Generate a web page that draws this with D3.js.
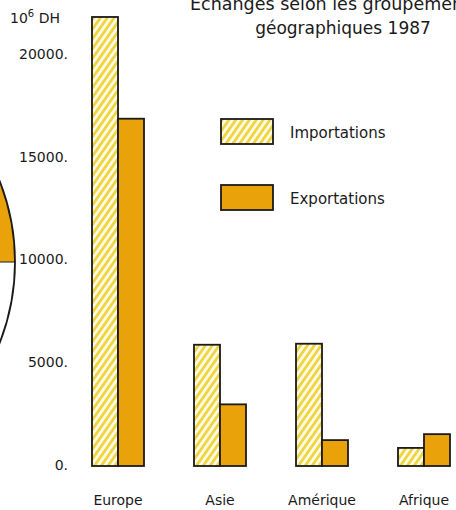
<!DOCTYPE html>
<html>
<head>
<meta charset="utf-8">
<script src="https://cdn.jsdelivr.net/npm/d3@7"></script>
<style>
  body { margin: 0; background: #fff; }
  svg { display: block; font-family: "DejaVu Sans", "Liberation Sans", sans-serif; }
</style>
</head>
<body>
<svg id="chart" width="456" height="510"></svg>
<script>
const regions = ["Europe", "Asie", "Amérique", "Afrique"];
const series = ["Importations", "Exportations"];
const imports = [21850, 5900, 5950, 880];
const exports = [16900, 3000, 1260, 1550];
const yTicks = [0, 5000, 10000, 15000, 20000];

const svg = d3.select("#chart");

const yellow = "#efd546";
const cream = "#fffbe2";
const orange = "#eaa20a";
const ink = "#1a1a1a";

// hatch pattern for imports
const defs = svg.append("defs");
const pat = defs.append("pattern")
    .attr("id", "hatch")
    .attr("patternUnits", "userSpaceOnUse")
    .attr("width", 5.6)
    .attr("height", 10)
    .attr("patternTransform", "rotate(35)");
pat.append("rect").attr("width", 5.6).attr("height", 10).attr("fill", cream);
pat.append("rect").attr("x", 0).attr("width", 2.8).attr("height", 10).attr("fill", yellow);

const fills = { "Importations": "url(#hatch)", "Exportations": orange };

// piece of the neighbouring pie chart, cut off at the left edge
const pieR = 221;
const pieWrap = svg.append("g");
defs.append("clipPath").attr("id", "pieclip")
    .append("rect").attr("x", 0).attr("y", 0).attr("width", 60).attr("height", 510);
pieWrap.attr("clip-path", "url(#pieclip)");
const pie = pieWrap.append("g").attr("transform", "translate(-206, 262)");
pie.append("path")
    .attr("d", d3.arc().innerRadius(0).outerRadius(pieR).startAngle(0).endAngle(Math.PI / 2)())
    .attr("fill", orange);
pie.append("circle").attr("r", pieR).attr("fill", "none").attr("stroke", ink).attr("stroke-width", 1.8);
pie.append("line").attr("x1", 0).attr("x2", pieR).attr("stroke", ink).attr("stroke-width", 1.2);

const y = d3.scaleLinear().domain([0, 20000]).range([466, 55]);
const x = d3.scalePoint().domain(regions).range([118, 424]);
const xs = d3.scaleBand().domain(series).range([-26, 26]);

// y axis labels
svg.append("g").selectAll("text")
    .data(yTicks)
    .enter().append("text")
        .attr("x", 68)
        .attr("y", d => y(d) - 1)
        .attr("dy", "0.35em")
        .attr("text-anchor", "end")
        .attr("font-size", "14px")
        .attr("fill", ink)
        .text(d => d + ".");

const unit = svg.append("text")
    .attr("x", 10)
    .attr("y", 23)
    .attr("font-size", "14px")
    .attr("fill", ink);
unit.append("tspan").text("10");
unit.append("tspan").attr("dy", -6).attr("font-size", "10px").text("6");
unit.append("tspan").attr("dy", 6).text(" DH");

// bars
const rows = regions.map((r, i) => ({ region: r, values: [
    { key: "Importations", value: imports[i] },
    { key: "Exportations", value: exports[i] }
]}));

const groups = svg.append("g").selectAll("g")
    .data(rows)
    .enter().append("g")
        .attr("transform", d => `translate(${x(d.region)},0)`);

groups.selectAll("rect")
    .data(d => d.values)
    .enter().append("rect")
        .attr("x", d => xs(d.key))
        .attr("y", d => y(d.value))
        .attr("width", xs.bandwidth())
        .attr("height", d => y(0) - y(d.value))
        .attr("fill", d => fills[d.key])
        .attr("stroke", ink)
        .attr("stroke-width", 1.8);

// category labels
svg.append("g").selectAll("text")
    .data(regions)
    .enter().append("text")
        .attr("x", d => x(d))
        .attr("y", 505)
        .attr("text-anchor", "middle")
        .attr("font-size", "14px")
        .attr("fill", ink)
        .text(d => d);

// legend
const legend = svg.append("g").selectAll("g")
    .data(series)
    .enter().append("g")
        .attr("transform", (d, i) => `translate(221, ${119 + i * 66})`);
legend.append("rect")
    .attr("width", 52)
    .attr("height", 25)
    .attr("fill", d => fills[d])
    .attr("stroke", ink)
    .attr("stroke-width", 1.8);
legend.append("text")
    .attr("x", 69)
    .attr("y", 14)
    .attr("dy", "0.35em")
    .attr("font-size", "15px")
    .attr("fill", ink)
    .text(d => d);

// title, cut off at the top and right edge as in the source page
svg.append("text")
    .attr("x", 190)
    .attr("y", 10)
    .attr("font-size", "17.5px")
    .attr("fill", ink)
    .text("Echanges selon les groupements");
svg.append("text")
    .attr("x", 343)
    .attr("y", 34)
    .attr("text-anchor", "middle")
    .attr("font-size", "17px")
    .attr("fill", ink)
    .text("géographiques  1987");
</script>
</body>
</html>
